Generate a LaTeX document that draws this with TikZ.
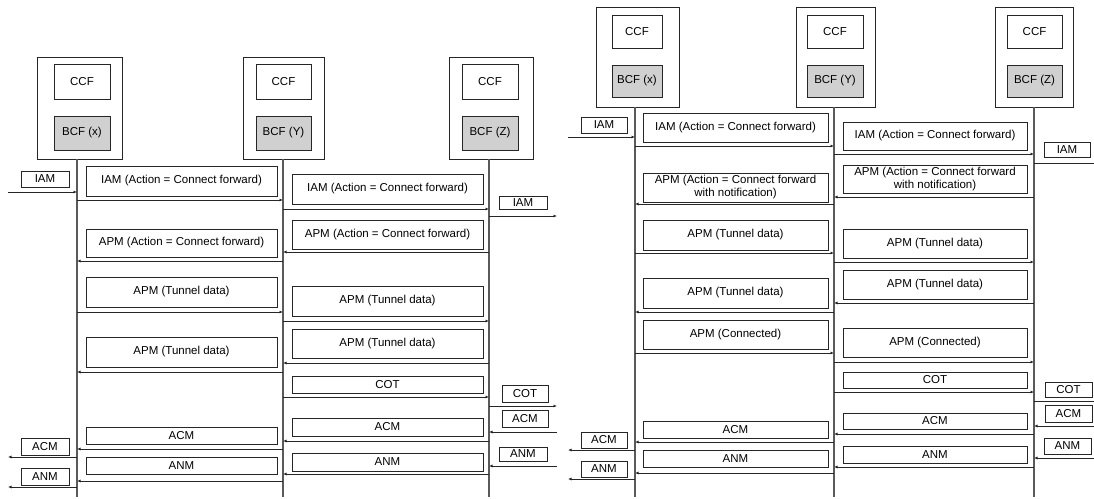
\documentclass[tikz,border=0pt]{standalone}
\usepackage{fontspec}
\setmainfont{Liberation Sans}
\usetikzlibrary{arrows.meta}
\definecolor{bcfgray}{RGB}{208,208,208}
\definecolor{lifegray}{RGB}{90,90,90}
\begin{document}
\begin{tikzpicture}[x=1pt,y=-1pt,
  every node/.style={font=\fontsize{11.5}{13}\selectfont},
  obox/.style={draw=black!85, line width=0.9pt, inner sep=0pt},
  ccfbox/.style={draw=black!85, line width=0.9pt, inner sep=0pt, fill=white},
  bcfbox/.style={draw=black!85, line width=0.9pt, inner sep=0pt, fill=bcfgray},
  mbox/.style={draw=black!85, line width=0.9pt, inner sep=0pt, align=center},
  life/.style={draw=lifegray, line width=1.1pt},
  msg/.style={draw=black!85, line width=1pt, -{Latex[length=3.5pt,width=3pt]}},
  plain/.style={draw=black!70, line width=1pt}
]
\useasboundingbox (0,0) rectangle (1094,498);

% ================= LEFT PANEL =================
% entities
\node[obox, minimum width=85, minimum height=102] (LXo) at (79.5,108) {};
\node[ccfbox, minimum width=56, minimum height=35] (LXc) at (82,81.5) {CCF};
\node[bcfbox, minimum width=56, minimum height=34] (LXb) at (82,133) {BCF (x)};
\node[obox, minimum width=81, minimum height=102] (LYo) at (283.5,108) {};
\node[ccfbox, minimum width=55, minimum height=35] (LYc) at (283.5,81.5) {CCF};
\node[bcfbox, minimum width=55, minimum height=34] (LYb) at (283.5,133) {BCF (Y)};
\node[obox, minimum width=84, minimum height=102] (LZo) at (491,108) {};
\node[ccfbox, minimum width=56, minimum height=35] (LZc) at (490,81.5) {CCF};
\node[bcfbox, minimum width=56, minimum height=34] (LZb) at (490,133) {BCF (Z)};

% lifelines
\coordinate (LX) at (77,159);
\coordinate (LY) at (283,159);
\coordinate (LZ) at (489,159);
\coordinate (LXe) at (77,497);
\coordinate (LYe) at (283,497);
\coordinate (LZe) at (489,497);
\draw[life] (LX) -- (LXe);
\draw[life] (LY) -- (LYe);
\draw[life] (LZ) -- (LZe);

% outer ends
\coordinate (LW) at (8,0);
\coordinate (LE) at (557,0);

% messages
\node[mbox, minimum width=48, minimum height=16] (l1) at (45,179) {IAM};
\draw[msg] (LW |- 0,192) -- (LX |- 0,192);

\node[mbox, minimum width=191, minimum height=30] (l2) at (181.5,181) {IAM (Action = Connect forward)};
\draw[msg] (LX |- 0,200) -- (LY |- 0,200);

\node[mbox, minimum width=191, minimum height=30] (l3) at (387.5,189) {IAM (Action = Connect forward)};
\draw[msg] (LY |- 0,209) -- (LZ |- 0,209);

\node[mbox, minimum width=48, minimum height=13] (l4) at (523,202.5) {IAM};
\draw[msg] (LZ |- 0,216) -- (LE |- 0,216);

\node[mbox, minimum width=191, minimum height=29] (l5) at (387.5,234.5) {APM (Action = Connect forward)};
\draw[msg] (LZ |- 0,252) -- (LY |- 0,252);

\node[mbox, minimum width=191, minimum height=28] (l6) at (181.5,243) {APM (Action = Connect forward)};
\draw[msg] (LY |- 0,261) -- (LX |- 0,261);

\node[mbox, minimum width=191, minimum height=30] (l7) at (181.5,292) {APM (Tunnel data)};
\draw[msg] (LX |- 0,312) -- (LY |- 0,312);

\node[mbox, minimum width=191, minimum height=30] (l8) at (387.5,301) {APM (Tunnel data)};
\draw[msg] (LY |- 0,321) -- (LZ |- 0,321);

\node[mbox, minimum width=191, minimum height=29] (l9) at (387.5,343.5) {APM (Tunnel data)};
\draw[msg] (LZ |- 0,363) -- (LY |- 0,363);

\node[mbox, minimum width=191, minimum height=30] (l10) at (181.5,352) {APM (Tunnel data)};
\draw[msg] (LY |- 0,372) -- (LX |- 0,372);

\node[mbox, minimum width=191, minimum height=17] (l11) at (387.5,384.5) {COT};
\draw[msg] (LY |- 0,397) -- (LZ |- 0,397);

\node[mbox, minimum width=46, minimum height=17] (l12) at (525,393.5) {COT};
\draw[msg] (LZ |- 0,406) -- (LE |- 0,406);

\node[mbox, minimum width=46, minimum height=17] (l13) at (525,418.5) {ACM};
\draw[msg] (LE |- 0,432) -- (LZ |- 0,432);

\node[mbox, minimum width=191, minimum height=18] (l14) at (387.5,427) {ACM};
\draw[msg] (LZ |- 0,441) -- (LY |- 0,441);

\node[mbox, minimum width=48, minimum height=14] (l15) at (523,454) {ANM};
\draw[msg] (LE |- 0,466) -- (LZ |- 0,466);

\node[mbox, minimum width=191, minimum height=18] (l16) at (387.5,462) {ANM};
\draw[msg] (LZ |- 0,474) -- (LY |- 0,474);

\node[mbox, minimum width=191, minimum height=17] (l17) at (181.5,435.5) {ACM};
\draw[msg] (LY |- 0,449) -- (LX |- 0,449);

\node[mbox, minimum width=48, minimum height=17] (l18) at (45,446.5) {ACM};
\draw[msg] (LX |- 0,457) -- (LW |- 0,457);

\node[mbox, minimum width=191, minimum height=17] (l19) at (181.5,465.5) {ANM};
\draw[msg] (LY |- 0,481) -- (LX |- 0,481);

\node[mbox, minimum width=48, minimum height=17] (l20) at (45,476.5) {ANM};
\draw[msg] (LX |- 0,487) -- (LW |- 0,487);

% ================= RIGHT PANEL =================
\node[obox, minimum width=83, minimum height=100] (RXo) at (637.5,57) {};
\node[ccfbox, minimum width=50, minimum height=33] (RXc) at (637,31.5) {CCF};
\node[bcfbox, minimum width=50, minimum height=32] (RXb) at (637,81) {BCF (x)};
\node[obox, minimum width=79, minimum height=100] (RYo) at (835.5,57) {};
\node[ccfbox, minimum width=56, minimum height=33] (RYc) at (835,31.5) {CCF};
\node[bcfbox, minimum width=56, minimum height=32] (RYb) at (835,81) {BCF (Y)};
\node[obox, minimum width=78, minimum height=100] (RZo) at (1034,57) {};
\node[ccfbox, minimum width=55, minimum height=33] (RZc) at (1034.5,31.5) {CCF};
\node[bcfbox, minimum width=55, minimum height=32] (RZb) at (1034.5,81) {BCF (Z)};

\coordinate (RX) at (635,107);
\coordinate (RY) at (834,107);
\coordinate (RZ) at (1034,107);
\coordinate (RXe) at (635,497);
\coordinate (RYe) at (834,497);
\coordinate (RZe) at (1034,497);
\draw[life] (RX) -- (RXe);
\draw[life] (RY) -- (RYe);
\draw[life] (RZ) -- (RZe);

\coordinate (RW) at (568,0);
\coordinate (RE) at (1099,0);

\node[mbox, minimum width=46, minimum height=16] (r1) at (604,125) {IAM};
\draw[msg] (RW |- 0,137) -- (RX |- 0,137);

\node[mbox, minimum width=185, minimum height=29] (r2) at (735.5,127.5) {IAM (Action = Connect forward)};
\draw[msg] (RX |- 0,146) -- (RY |- 0,146);

\node[mbox, minimum width=184, minimum height=28] (r3) at (935,136) {IAM (Action = Connect forward)};
\draw[msg] (RY |- 0,154) -- (RZ |- 0,154);

\node[mbox, minimum width=46, minimum height=15] (r4) at (1067,149.5) {IAM};
\draw[msg] (RZ |- 0,163) -- (RE |- 0,163);

\node[mbox, minimum width=184, minimum height=28] (r5) at (935,179) {APM (Action = Connect forward\\with notification)};
\draw[msg] (RZ |- 0,197) -- (RY |- 0,197);

\node[mbox, minimum width=185, minimum height=29] (r6) at (735.5,187.5) {APM (Action = Connect forward\\with notification)};
\draw[msg] (RY |- 0,204) -- (RX |- 0,204);

\node[mbox, minimum width=185, minimum height=30] (r7) at (735.5,235) {APM (Tunnel data)};
\draw[msg] (RX |- 0,253) -- (RY |- 0,253);

\node[mbox, minimum width=184, minimum height=29] (r8) at (935,243.5) {APM (Tunnel data)};
\draw[msg] (RY |- 0,262) -- (RZ |- 0,262);

\node[mbox, minimum width=184, minimum height=29] (r9) at (935,284.5) {APM (Tunnel data)};
\draw[msg] (RZ |- 0,303) -- (RY |- 0,303);

\node[mbox, minimum width=185, minimum height=30] (r10) at (735.5,293) {APM (Tunnel data)};
\draw[msg] (RY |- 0,312) -- (RX |- 0,312);

\node[mbox, minimum width=185, minimum height=29] (r11) at (735.5,334.5) {APM (Connected)};
\draw[msg] (RX |- 0,353) -- (RY |- 0,353);

\node[mbox, minimum width=184, minimum height=29] (r12) at (935,342.5) {APM (Connected)};
\draw[msg] (RY |- 0,362) -- (RZ |- 0,362);

\node[mbox, minimum width=184, minimum height=16] (r13) at (935,380) {COT};
\draw[msg] (RY |- 0,392) -- (RZ |- 0,392);

\node[mbox, minimum width=47, minimum height=15] (r14) at (1068.5,389.5) {COT};
\draw[msg] (RZ |- 0,401) -- (RE |- 0,401);

\node[mbox, minimum width=47, minimum height=17] (r15) at (1068.5,413.5) {ACM};
\draw[msg] (RE |- 0,426) -- (RZ |- 0,426);

\node[mbox, minimum width=184, minimum height=16] (r16) at (935,421) {ACM};
\draw[msg] (RZ |- 0,434) -- (RY |- 0,434);

\node[mbox, minimum width=47, minimum height=16] (r17) at (1067.5,446) {ANM};
\draw[msg] (RE |- 0,458) -- (RZ |- 0,458);

\node[mbox, minimum width=184, minimum height=17] (r18) at (935,454.5) {ANM};
\draw[msg] (RZ |- 0,467) -- (RY |- 0,467);

\node[mbox, minimum width=185, minimum height=17] (r19) at (735.5,429.5) {ACM};
\draw[msg] (RY |- 0,442) -- (RX |- 0,442);

\node[mbox, minimum width=46, minimum height=16] (r20) at (604,440) {ACM};
\draw[msg] (RX |- 0,450) -- (RW |- 0,450);

\node[mbox, minimum width=185, minimum height=17] (r21) at (735.5,458.5) {ANM};
\draw[msg] (RY |- 0,473) -- (RX |- 0,473);

\node[mbox, minimum width=46, minimum height=16] (r22) at (604,469) {ANM};
\draw[msg] (RX |- 0,479) -- (RW |- 0,479);
\end{tikzpicture}
\end{document}
